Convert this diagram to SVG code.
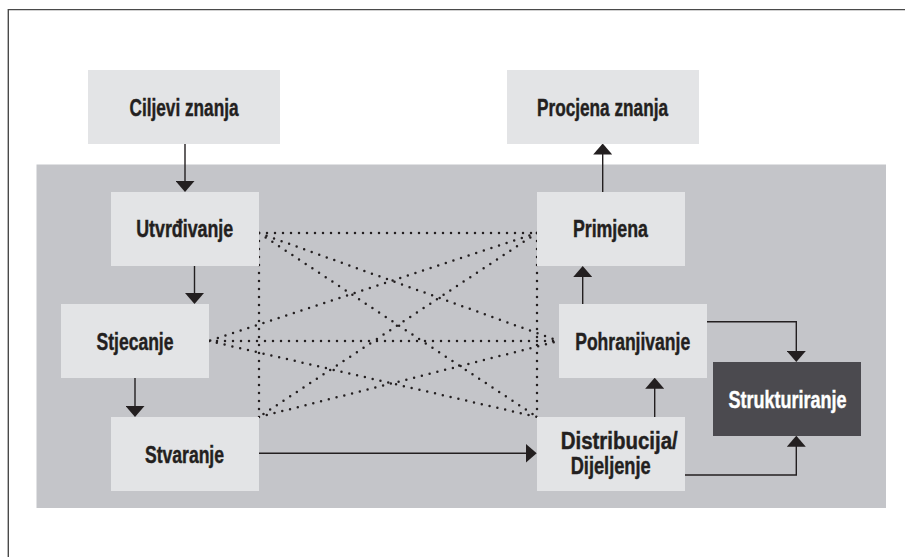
<svg xmlns="http://www.w3.org/2000/svg" width="905" height="557" viewBox="0 0 905 557">
  <style>
    .box { fill: #e3e4e6; }
    .dark { fill: #4b4a4f; }
    .lbl { font-family: "Liberation Sans", "Arial", sans-serif; font-weight: bold; font-size: 23.5px; fill: #231f20; stroke: #231f20; stroke-width: 0.45; text-anchor: middle; }
    .lbl-w { fill: #ffffff; stroke: #ffffff; }
    .flow { fill: none; stroke: #231f20; stroke-width: 1.4; }
    .dots { fill: none; stroke: #231f20; stroke-width: 2.5; stroke-linecap: round; stroke-dasharray: 0 8; }
  </style>
  <defs>
    <marker id="head" viewBox="0 0 11 19" markerWidth="11" markerHeight="19" refX="9" refY="9.5" orient="auto" markerUnits="userSpaceOnUse">
      <path d="M0,0 L11,9.5 L0,19 Z" fill="#231f20"/>
    </marker>
  </defs>

  <!-- page frame: top and left rule -->
  <rect width="905" height="557" fill="#ffffff"/>
  <path d="M8.3,557 V9.6 H905" fill="none" stroke="#4a4a4a" stroke-width="1.4"/>

  <!-- shaded process area -->
  <rect id="process-area" x="36.5" y="164.5" width="849.5" height="343.5" fill="#c4c5c9"/>

  <!-- connectors -->
  <g id="connectors">
    <!-- dotted cross links between the left and right columns -->
    <g class="dots">
      <path d="M259,233 H537"/>
      <path d="M259,233 V417"/>
      <path d="M537,233 V417"/>
      <path d="M209,341 H559"/>
      <path d="M259,233 L537,417"/>
      <path d="M537,233 L259,417"/>
      <path d="M259,233 L559,341"/>
      <path d="M537,233 L209,341"/>
      <path d="M209,341 L537,417"/>
      <path d="M259,417 L559,341"/>
    </g>
    <!-- directed flows -->
    <g class="flow" marker-end="url(#head)">
      <path d="M185,143.5 V190"/>
      <path d="M194.5,266 V302"/>
      <path d="M135,378 V415"/>
      <path d="M259,453.3 H534.7"/>
      <path d="M602.7,192 V145.5"/>
      <path d="M582.7,304 V268"/>
      <path d="M654.7,417 V379.7"/>
      <path d="M707,321.7 H796.3 V360"/>
      <path d="M684.7,475 H796.3 V437.7"/>
    </g>
  </g>

  <!-- nodes -->
  <g id="ciljevi-znanja">
    <rect class="box" x="88" y="70" width="192" height="74"/>
    <text class="lbl" x="184" y="115.5" textLength="109" lengthAdjust="spacingAndGlyphs">Ciljevi znanja</text>
  </g>
  <g id="procjena-znanja">
    <rect class="box" x="507" y="70" width="192" height="74"/>
    <text class="lbl" x="602.5" y="115.5" textLength="131" lengthAdjust="spacingAndGlyphs">Procjena znanja</text>
  </g>
  <g id="utvrdivanje">
    <rect class="box" x="111" y="192" width="148" height="74"/>
    <text class="lbl" x="184.7" y="237" textLength="97" lengthAdjust="spacingAndGlyphs">Utvrđivanje</text>
  </g>
  <g id="primjena">
    <rect class="box" x="537" y="192" width="148" height="74"/>
    <text class="lbl" x="610.4" y="237" textLength="75" lengthAdjust="spacingAndGlyphs">Primjena</text>
  </g>
  <g id="stjecanje">
    <rect class="box" x="61" y="304" width="148" height="74"/>
    <text class="lbl" x="135" y="350" textLength="77" lengthAdjust="spacingAndGlyphs">Stjecanje</text>
  </g>
  <g id="pohranjivanje">
    <rect class="box" x="559" y="304" width="148" height="74"/>
    <text class="lbl" x="632.7" y="350" textLength="115" lengthAdjust="spacingAndGlyphs">Pohranjivanje</text>
  </g>
  <g id="stvaranje">
    <rect class="box" x="111" y="417" width="148" height="74"/>
    <text class="lbl" x="184.5" y="463" textLength="79" lengthAdjust="spacingAndGlyphs">Stvaranje</text>
  </g>
  <g id="distribucija">
    <rect class="box" x="537" y="417" width="148" height="74"/>
    <text class="lbl" x="619.2" y="449" textLength="117" lengthAdjust="spacingAndGlyphs">Distribucija/</text>
    <text class="lbl" x="610.7" y="474" textLength="80" lengthAdjust="spacingAndGlyphs">Dijeljenje</text>
  </g>
  <g id="strukturiranje">
    <rect class="dark" x="713" y="362" width="148" height="74"/>
    <text class="lbl lbl-w" x="787.5" y="408" textLength="118" lengthAdjust="spacingAndGlyphs">Strukturiranje</text>
  </g>
</svg>
